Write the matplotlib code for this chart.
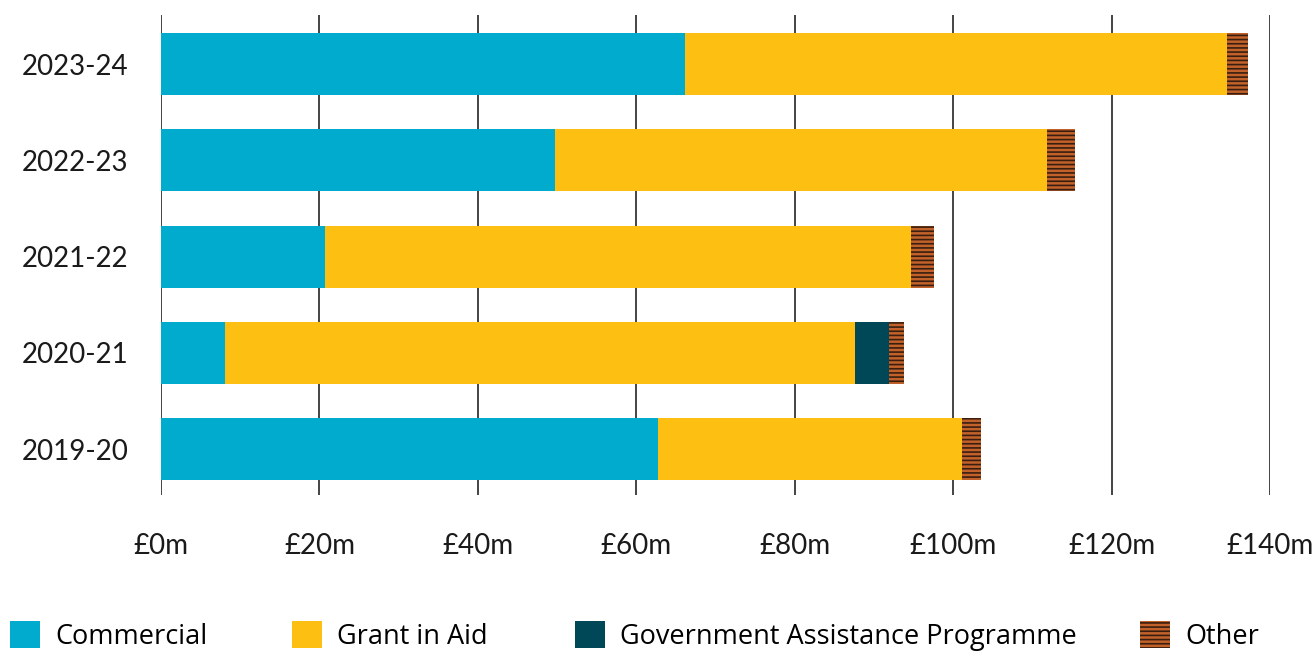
import numpy as np
import matplotlib.pyplot as plt
from matplotlib.patches import Patch

plt.rcParams['font.family'] = ['Lato', 'DejaVu Sans']
plt.rcParams['hatch.linewidth'] = 1.2

## Data (values in £m)
years = ['2019-20', '2020-21', '2021-22', '2022-23', '2023-24']
commercial = [62.7, 8.1, 20.7, 49.7, 66.2]
grant_in_aid = [38.4, 79.5, 74.0, 62.2, 68.4]
gov_assistance = [0.0, 4.3, 0.0, 0.0, 0.0]
other = [2.4, 1.9, 2.9, 3.5, 2.6]
xticks = [0, 20, 40, 60, 80, 100, 120, 140]
xtick_labels = ['£0m', '£20m', '£40m', '£60m', '£80m', '£100m', '£120m', '£140m']

c_comm = '#00abcd'
c_gia = '#fcbf12'
c_gap = '#004858'
c_other = '#c2622a'
c_hatch = '#3a1f10'

fig = plt.figure(figsize=(13.16, 6.51), dpi=100)
ax = fig.add_axes([161/1316, 1 - 495/651, (1270-161)/1316, (495-15)/651])

y = np.arange(len(years))
h = 0.645
left = np.zeros(len(years))
ax.barh(y, commercial, height=h, left=left, color=c_comm, linewidth=0, zorder=3)
left += commercial
ax.barh(y, grant_in_aid, height=h, left=left, color=c_gia, linewidth=0, zorder=3)
left += grant_in_aid
ax.barh(y, gov_assistance, height=h, left=left, color=c_gap, linewidth=0, zorder=3)
left += gov_assistance
ax.barh(y, other, height=h, left=left, facecolor=c_other, edgecolor=c_hatch,
        hatch='----', linewidth=0, zorder=3)

ax.set_xlim(0, 140)
ax.set_ylim(-0.478, 4.51)
ax.set_xticks(xticks)
ax.set_xticklabels(xtick_labels, fontsize=20, color='#1a1a1a')
ax.set_yticks(y)
ax.set_yticklabels(years, fontsize=20, color='#1a1a1a')
for lbl in ax.get_yticklabels():
    lbl.set_y(lbl.get_position()[1])
ax.tick_params(axis='x', length=0, pad=27)
ax.tick_params(axis='y', length=0, pad=23.5)
for s in ax.spines.values():
    s.set_visible(False)
ax.grid(axis='x', color='#111111', linewidth=1.1, zorder=0)

# legend, one entry per fixed column
handles = [Patch(facecolor=c_comm, linewidth=0),
           Patch(facecolor=c_gia, linewidth=0),
           Patch(facecolor=c_gap, linewidth=0),
           Patch(facecolor=c_other, edgecolor=c_hatch, hatch='----', linewidth=0)]
names = ['Commercial', 'Grant in Aid', 'Government Assistance Programme', 'Other']
xpos = [10, 292, 575, 1140]
for hd, nm, xp in zip(handles, names, xpos):
    fig.legend([hd], [nm], loc='center left', bbox_to_anchor=(xp/1316, 1 - 636/651),
               frameon=False, prop={'family': ['Open Sans', 'DejaVu Sans'], 'size': 19.5},
               handlelength=1.11, handleheight=1.11,
               handletextpad=0.55, borderpad=0, borderaxespad=0)

fig.savefig('out.png', dpi=100)
